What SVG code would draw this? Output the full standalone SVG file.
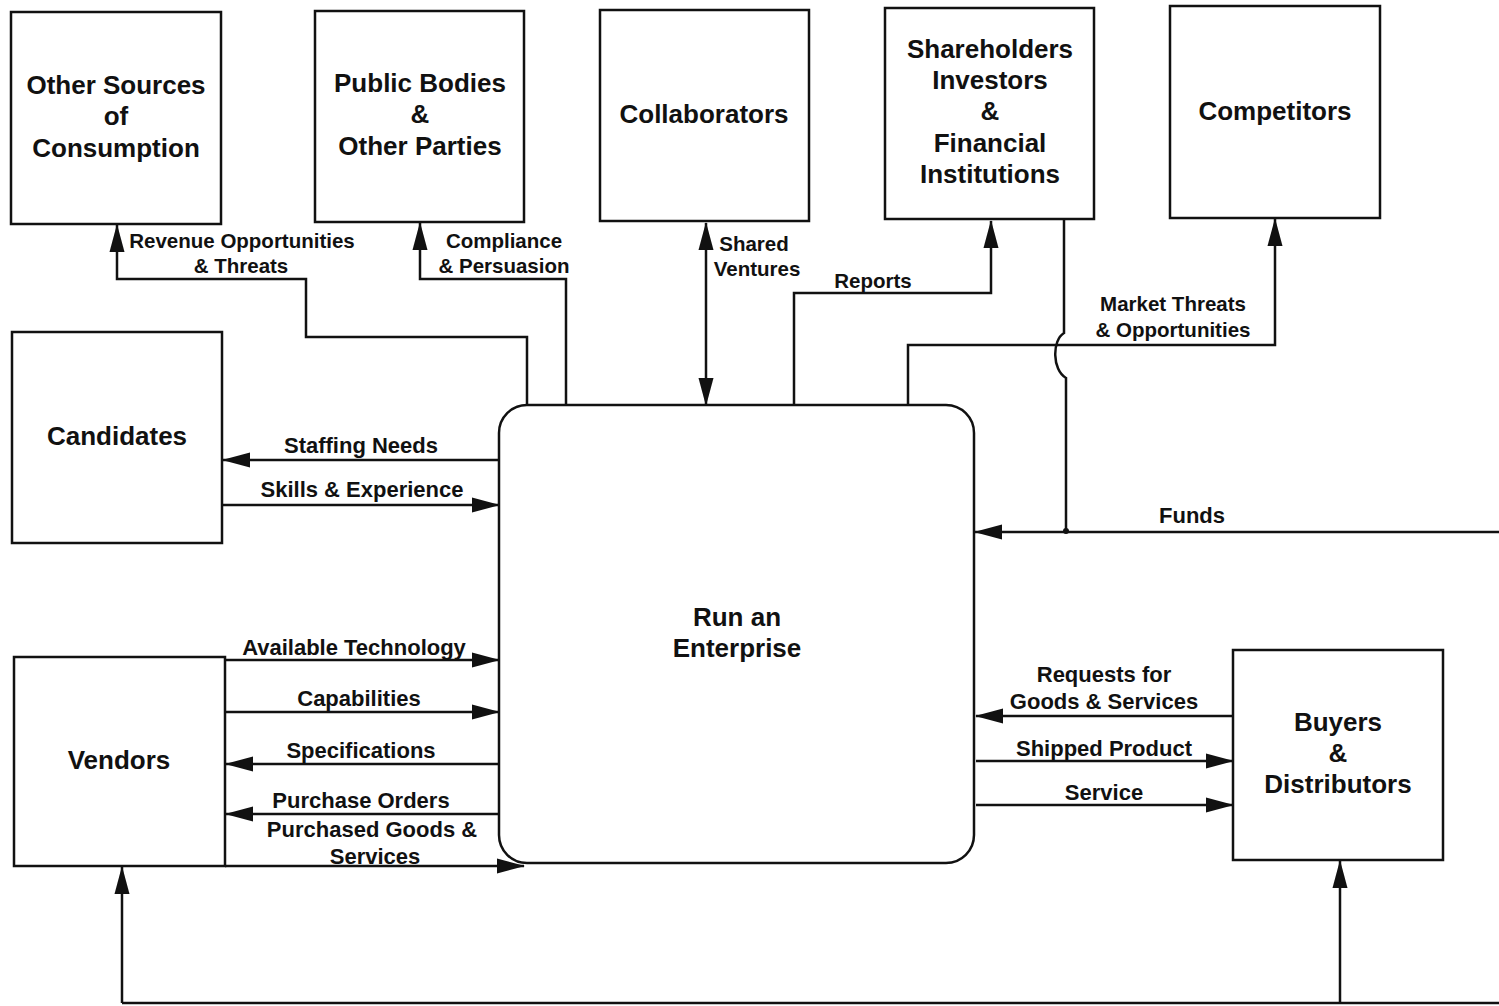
<svg xmlns="http://www.w3.org/2000/svg" width="1499" height="1006" viewBox="0 0 1499 1006">
<style>
.box{fill:#fff;stroke:#111;stroke-width:2.5}
.ln{fill:none;stroke:#111;stroke-width:2.5}
.arr{marker-end:url(#ah)}
.nt{font-family:"Liberation Sans",Arial,sans-serif;font-weight:bold;font-size:26px;fill:#111;text-anchor:middle}
.lt{font-family:"Liberation Sans",Arial,sans-serif;font-weight:bold;font-size:20.5px;fill:#111;text-anchor:middle}
.ls{font-family:"Liberation Sans",Arial,sans-serif;font-weight:bold;font-size:22px;fill:#111;text-anchor:middle}
</style>
<defs>
<marker id="ah" markerUnits="userSpaceOnUse" markerWidth="28" markerHeight="18" viewBox="0 0 28 18" refX="27" refY="9" orient="auto-start-reverse">
<path d="M0,1.5 L28,9 L0,16.5 z" fill="#111"/>
</marker>
</defs>
<rect width="1499" height="1006" fill="#fff"/>

<g id="connectors">
<path class="ln arr" d="M527,405 V337 H306 V279 H117 V225"/>
<path class="ln arr" d="M566,405 V279 H420 V223"/>
<path class="ln arr" d="M706,223 V405" style="marker-start:url(#ah)"/>
<path class="ln arr" d="M794,405 V293 H991 V221"/>
<path class="ln arr" d="M908,405 V345 H1275 V219"/>
<path class="ln" d="M1064,219 V333 C1052,340 1052,370 1066,378 V532"/>
<circle cx="1066" cy="531" r="3" fill="#111"/>
<path class="ln arr" d="M1499,532 H975"/>
<path class="ln arr" d="M499,460 H223"/>
<path class="ln arr" d="M223,505 H499"/>
<path class="ln arr" d="M225,660 H499"/>
<path class="ln arr" d="M225,712 H499"/>
<path class="ln arr" d="M499,764 H226"/>
<path class="ln arr" d="M499,814 H226"/>
<path class="ln arr" d="M225,866 H524"/>
<path class="ln arr" d="M1233,716 H976"/>
<path class="ln arr" d="M976,761 H1233"/>
<path class="ln arr" d="M976,805 H1233"/>
<path class="ln" d="M122,1003 H1499"/>
<path class="ln arr" d="M122,1003 V867"/>
<path class="ln arr" d="M1340,1003 V861"/>
<text class="lt" x="242" y="248">Revenue Opportunities</text>
<text class="lt" x="241" y="273">&amp; Threats</text>
<text class="lt" x="504" y="248">Compliance</text>
<text class="lt" x="504" y="273">&amp; Persuasion</text>
<text class="lt" x="754" y="251">Shared</text>
<text class="lt" x="757" y="276">Ventures</text>
<text class="lt" x="873" y="288">Reports</text>
<text class="lt" x="1173" y="311">Market Threats</text>
<text class="lt" x="1173" y="337">&amp; Opportunities</text>
<text class="ls" x="361" y="453">Staffing Needs</text>
<text class="ls" x="362" y="497">Skills &amp; Experience</text>
<text class="ls" x="1192" y="523">Funds</text>
<text class="ls" x="354" y="655">Available Technology</text>
<text class="ls" x="359" y="706">Capabilities</text>
<text class="ls" x="361" y="758">Specifications</text>
<text class="ls" x="361" y="808">Purchase Orders</text>
<text class="ls" x="372" y="837">Purchased Goods &amp;</text>
<text class="ls" x="375" y="864">Services</text>
<text class="ls" x="1104" y="682">Requests for</text>
<text class="ls" x="1104" y="709">Goods &amp; Services</text>
<text class="ls" x="1104" y="756">Shipped Product</text>
<text class="ls" x="1104" y="800">Service</text>
</g>

<g id="enterprise">
<rect class="box" x="499" y="405" width="475" height="458" rx="28"/>
<text class="nt" x="737" y="626">Run an</text>
<text class="nt" x="737" y="657">Enterprise</text>
</g>
<g id="other-sources">
<rect class="box" x="11" y="12" width="210" height="212"/>
<text class="nt" x="116" y="94">Other Sources</text>
<text class="nt" x="116" y="125">of</text>
<text class="nt" x="116" y="157">Consumption</text>
</g>
<g id="public-bodies">
<rect class="box" x="315" y="11" width="209" height="211"/>
<text class="nt" x="420" y="92">Public Bodies</text>
<text class="nt" x="420" y="123">&amp;</text>
<text class="nt" x="420" y="155">Other Parties</text>
</g>
<g id="collaborators">
<rect class="box" x="600" y="10" width="209" height="211"/>
<text class="nt" x="704" y="123">Collaborators</text>
</g>
<g id="shareholders">
<rect class="box" x="885" y="8" width="209" height="211"/>
<text class="nt" x="990" y="58">Shareholders</text>
<text class="nt" x="990" y="89">Investors</text>
<text class="nt" x="990" y="120">&amp;</text>
<text class="nt" x="990" y="152">Financial</text>
<text class="nt" x="990" y="183">Institutions</text>
</g>
<g id="competitors">
<rect class="box" x="1170" y="6" width="210" height="212"/>
<text class="nt" x="1275" y="120">Competitors</text>
</g>
<g id="candidates">
<rect class="box" x="12" y="332" width="210" height="211"/>
<text class="nt" x="117" y="445">Candidates</text>
</g>
<g id="vendors">
<rect class="box" x="14" y="657" width="211" height="209"/>
<text class="nt" x="119" y="769">Vendors</text>
</g>
<g id="buyers">
<rect class="box" x="1233" y="650" width="210" height="210"/>
<text class="nt" x="1338" y="731">Buyers</text>
<text class="nt" x="1338" y="762">&amp;</text>
<text class="nt" x="1338" y="793">Distributors</text>
</g>
</svg>
